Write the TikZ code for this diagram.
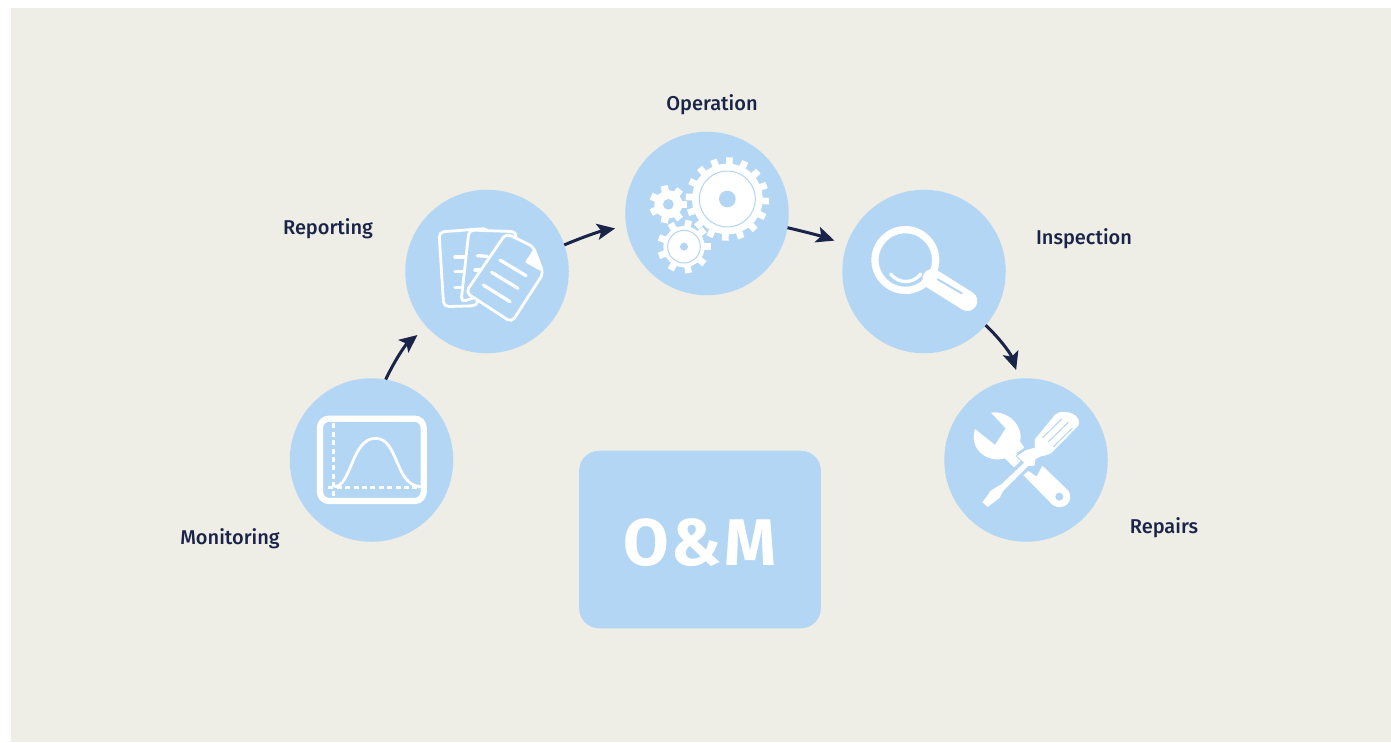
\documentclass[tikz,border=0pt]{standalone}
\usepackage{fontspec}
\usepackage{tikz}
\usetikzlibrary{arrows.meta, positioning}
\setmainfont{Fira Sans Medium}
\newfontfamily\boxfont[LetterSpace=4]{Fira Sans}
\definecolor{sand}{HTML}{EEEDE6}
\definecolor{sky}{HTML}{B3D6F5}
\definecolor{navy}{HTML}{1A2448}
\newcommand{\gearwheel}[6]{%
    \fill[white] #1 circle[radius=#2];
    \foreach \k in {1,...,#4}
        \fill[white,shift={#1},rotate=#5+\k*360/#4] (#2-4,-#6) rectangle (#3,#6);
}

\begin{document}
\begin{tikzpicture}[x=1pt, y=-1pt, on grid, semithick]
        \tikzset{
            stage/.style={circle, fill=sky, inner sep=0pt, outer sep=0pt, minimum size=163.5pt},
            caption/.style={text=navy, inner sep=0pt, font=\fontsize{20}{24}\selectfont},
            flow/.style={-{Stealth[length=18pt,width=16pt,inset=4pt]}, navy, line width=3pt},
            icon/.style={white, line width=2.6pt, line cap=round, line join=round},
            sheet/.style={icon, line width=2.8pt, fill=sky, rounded corners=5pt},
            rule/.style={icon, line width=3.3pt}
        }
        \useasboundingbox (0,0) rectangle (1391,742);
        \fill[sand] (11,8) rectangle (1391,742);

        \node[stage] (mon) at (371.5,460) {};
        \node[stage] (rep) [above right=188.5pt and 115.5pt of mon] {};
        \node[stage] (ope) [above right=58pt and 220pt of rep] {};
        \node[stage] (ins) [below right=58pt and 217pt of ope] {};
        \node[stage] (rpr) [below right=188.5pt and 102pt of ins] {};

        \node[caption] (monlabel) [below left=79pt and 141.5pt of mon] {Monitoring};
        \node[caption] (replabel) [above left=42.5pt and 159pt of rep] {Reporting};
        \node[caption] (opelabel) [above right=108.5pt and 5pt of ope] {Operation};
        \node[caption] (inslabel) [above right=32.5pt and 160pt of ins] {Inspection};
        \node[caption] (rprlabel) [below right=68pt and 138pt of rpr] {Repairs};

        \node[fill=sky, rounded corners=20pt, minimum width=241.7pt, minimum height=177.6pt,
              text height=51pt, text depth=0pt,
              text=white, font=\boxfont\bfseries\fontsize{66}{70}\selectfont] (om) at (700,539.5)
              {O\&M};

        \path[flow]
        (mon.80) edge[bend left=13, shorten >=12.4pt] (rep.223)
        (rep.19.6) edge[bend left=6, shorten >=11.3pt] (ope.189.6)
        (ope.-10) edge[bend left=3, shorten >=13pt] (ins.161)
        (ins.-41) edge[bend left=14, shorten >=9pt] (rpr.95);

        % chart
        \begin{scope}[shift={(280,370)}, x=1/3pt, y=-1/3pt]
            \draw[icon, line width=6.2pt, rounded corners=9pt] (120,146) rectangle (431,393);
            \draw[icon, line width=2.8pt, line cap=butt, dash pattern=on 5pt off 3.4pt] (160,160) -- (160,380);
            \draw[icon, line width=2.8pt, line cap=butt, dash pattern=on 5pt off 3.4pt] (145,352) -- (420,352);
            \draw[icon, line width=2.8pt] (165,350) .. controls (215,345) and (215,205) .. (287,205)
                .. controls (355,205) and (345,345) .. (420,350);
        \end{scope}

        % papers
        \begin{scope}[shift={(400,185)}, x=1/3pt, y=-1/3pt]
            \draw[sheet] (117,141) -- (265,130) -- (232,362) -- (131,365) -- cycle;
            \foreach \ya/\xb in {216/195, 260/190, 308/182}
                \draw[rule] (165,\ya) -- (\xb,\ya);
            \draw[sheet] (207,135) -- (350,140) -- (330,300) -- (183,352) -- cycle;
            \draw[rule] (232,212) -- (262,214);
            \draw[rule] (225,255) -- (242,255);
            \draw[sheet] (318,145) -- (400,185) -- (430,265) -- (335,412) -- (197,322) -- cycle;
            \fill[white, rounded corners=1pt] (402,190) -- (375,232) -- (422,258) -- cycle;
            \draw[rule] (300,225) -- (378,272);
            \draw[rule] (275,262) -- (354,310);
            \draw[rule] (250,300) -- (330,350);
        \end{scope}

        % gears
        \begin{scope}[shift={(620,125)}, x=1/3pt, y=-1/3pt]
            \gearwheel{(322,222)}{106}{125}{16}{87}{10}
            \draw[sky, line width=1pt] (322,222) circle[radius=84];
            \fill[sky] (322,222) circle[radius=25];
            \gearwheel{(145,238)}{42}{57}{7}{0}{11}
            \fill[sky] (145,238) circle[radius=16];
            \gearwheel{(192,365)}{62}{80}{9}{0}{10}
            \draw[sky, line width=1pt] (192,365) circle[radius=49];
            \fill[sky] (192,365) circle[radius=12];
        \end{scope}

        % magnifier
        \begin{scope}[shift={(835,185)}, x=1/3pt, y=-1/3pt]
            \draw[icon, line width=7.3pt] (211,225) circle[radius=91];
            \draw[icon, line width=20pt] (292,282) -- (397,348);
            \draw[sky, line width=2pt, line cap=round] (308,283) -- (380,325);
            \draw[icon, line width=3.3pt] (167,267) .. controls (190,297) and (235,297) .. (257,267);
        \end{scope}

        % tools
        \begin{scope}[shift={(940,370)}, x=1/3pt, y=-1/3pt]
            \fill[white] (153,128) .. controls (200,120) and (252,165) .. (240,215) -- (253,233) -- (228,250)
                -- (245,270) -- (222,292) -- (195,265)
                .. controls (145,280) and (85,240) .. (105,177) -- (165,225) -- (197,175) -- cycle;
            \fill[white] (250,315) -- (265,303) -- (290,320) -- (307,287) -- (385,362)
                .. controls (405,395) and (370,425) .. (338,405) -- cycle;
            \fill[sky] (358,380) circle[radius=12];
            \filldraw[white, draw=sky, line width=0.8pt] (228,258) -- (255,240) -- (283,232) -- (283,207)
                -- (345,132) .. controls (375,110) and (432,135) .. (416,168) -- (345,240)
                .. controls (330,262) and (305,255) .. (288,268) -- (285,288) -- (265,290)
                -- (190,365) -- (180,385) -- (143,413) -- (125,397) -- (152,360) -- (185,340) -- (250,278) -- cycle;
            \draw[sky, line width=1pt, line cap=round] (308,203) -- (365,147);
            \draw[sky, line width=1pt, line cap=round] (325,215) -- (385,157);
            \draw[sky, line width=1pt, line cap=round] (340,230) -- (397,175);
        \end{scope}
\end{tikzpicture}
\end{document}
